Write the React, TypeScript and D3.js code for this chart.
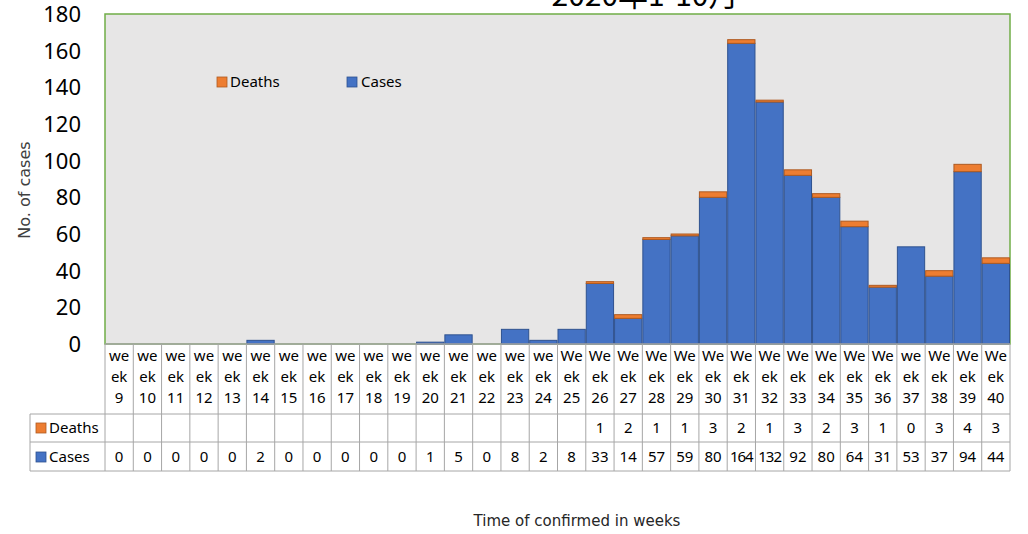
import React from "react";
import * as d3 from "d3";

const weeks = ["9","10","11","12","13","14","15","16","17","18","19","20","21","22","23","24","25","26","27","28","29","30","31","32","33","34","35","36","37","38","39","40"];
const weekPrefix = ["we","we","we","we","we","we","we","we","we","we","we","we","we","we","we","we","We","We","We","We","We","We","We","We","We","We","We","We","we","We","We","We"];
const cases = [0,0,0,0,0,2,0,0,0,0,0,1,5,0,8,2,8,33,14,57,59,80,164,132,92,80,64,31,53,37,94,44];
const deaths: (number | null)[] = [null,null,null,null,null,null,null,null,null,null,null,null,null,null,null,null,null,1,2,1,1,3,2,1,3,2,3,1,0,3,4,3];
const yTicks = [0,20,40,60,80,100,120,140,160,180];

const W = 1028, H = 534;
const left = 105, right = 1010, top = 14, bottom = 344;
const row1 = 414, row2 = 442, row3 = 471;
const tableLeft = 30;

const CASE_C = "#4472C4", CASE_S = "#2F528F";
const DEATH_C = "#ED7D31", DEATH_S = "#AE5A21";

export default function App() {
  const x = d3.scaleBand<string>().domain(weeks).range([left, right]).padding(0);
  const y = d3.scaleLinear().domain([0, 180]).range([bottom, top]);
  const bw = x.bandwidth();
  const gridC = "#A6A6A6";
  const tf = "'Noto Sans', 'Open Sans', sans-serif";

  return (
    <div style={{ position: "absolute", left: 0, top: 0 }}>
      <svg width={W} height={H} style={{ display: "block", background: "#fff" }}>
        {/* title (clipped at top, as in the reference) */}
        <text x={645} y={6} textAnchor="middle" fontSize={30} fontFamily="'Noto Sans CJK SC', 'Noto Sans', sans-serif" fill="#000">2020年1-10月</text>

        {/* plot area */}
        <rect x={left} y={top} width={right - left} height={bottom - top} fill="#E7E6E6" stroke="#70AD47" strokeWidth={1.5} />

        {/* bars */}
        {weeks.map((w, i) => {
          const c = cases[i];
          const d = deaths[i] ?? 0;
          const x0 = x(w)!;
          return (
            <g key={w}>
              {c > 0 && (
                <rect x={x0 + 0.5} y={y(c)} width={bw - 1} height={y(0) - y(c)} fill={CASE_C} stroke={CASE_S} strokeWidth={1} />
              )}
              {d > 0 && (
                <rect x={x0 + 0.5} y={y(c + d)} width={bw - 1} height={y(c) - y(c + d)} fill={DEATH_C} stroke={DEATH_S} strokeWidth={1} />
              )}
            </g>
          );
        })}

        {/* axis line */}
        <line x1={left} x2={right} y1={bottom} y2={bottom} stroke="#A6A6A6" strokeWidth={1.5} />

        {/* y ticks */}
        {yTicks.map((t) => (
          <text key={t} x={81} y={y(t) + 8} textAnchor="end" fontSize={22} fontFamily={tf} fill="#000">{t}</text>
        ))}

        {/* y title */}
        <text transform={`translate(30,${190}) rotate(-90)`} textAnchor="middle" fontSize={16} fontFamily="'DejaVu Sans', sans-serif" fill="#404040">No. of cases</text>

        {/* legend */}
        <rect x={217} y={77} width={10} height={10} fill={DEATH_C} stroke={DEATH_S} strokeWidth={0.8} />
        <text x={230} y={87} fontSize={15} fontFamily={tf} fill="#000">Deaths</text>
        <rect x={347} y={77} width={10} height={10} fill={CASE_C} stroke={CASE_S} strokeWidth={0.8} />
        <text x={361} y={87} fontSize={15} fontFamily={tf} fill="#000">Cases</text>

        {/* data table lines */}
        {weeks.map((w) => (
          <line key={"v" + w} x1={x(w)!} x2={x(w)!} y1={bottom} y2={row3} stroke={gridC} strokeWidth={1} />
        ))}
        <line x1={right} x2={right} y1={bottom} y2={row3} stroke={gridC} strokeWidth={1} />
        <line x1={tableLeft} x2={tableLeft} y1={row1} y2={row3} stroke={gridC} strokeWidth={1} />
        <line x1={tableLeft} x2={right} y1={row1} y2={row1} stroke={gridC} strokeWidth={1} />
        <line x1={tableLeft} x2={right} y1={row2} y2={row2} stroke={gridC} strokeWidth={1} />
        <line x1={tableLeft} x2={right} y1={row3} y2={row3} stroke={gridC} strokeWidth={1} />

        {/* header labels */}
        {weeks.map((w, i) => {
          const cx = x(w)! + bw / 2;
          return (
            <g key={"h" + w} fontSize={15} fontFamily={tf} fill="#000" textAnchor="middle">
              <text x={cx} y={361}>{weekPrefix[i]}</text>
              <text x={cx} y={382}>ek</text>
              <text x={cx} y={403}>{w}</text>
            </g>
          );
        })}

        {/* deaths row */}
        <rect x={36} y={423} width={10} height={10} fill={DEATH_C} stroke={DEATH_S} strokeWidth={0.8} />
        <text x={49} y={433} fontSize={15} fontFamily={tf} fill="#000">Deaths</text>
        {weeks.map((w, i) => (
          deaths[i] !== null ? (
            <text key={"d" + w} x={x(w)! + bw / 2} y={433} textAnchor="middle" fontSize={15} fontFamily={tf} fill="#000">{deaths[i]}</text>
          ) : null
        ))}

        {/* cases row */}
        <rect x={36} y={452} width={10} height={10} fill={CASE_C} stroke={CASE_S} strokeWidth={0.8} />
        <text x={49} y={462} fontSize={15} fontFamily={tf} fill="#000">Cases</text>
        {weeks.map((w, i) => (
          <text key={"c" + w} x={x(w)! + bw / 2} y={462} textAnchor="middle" fontSize={15} fontFamily={tf} fill="#000" letterSpacing={cases[i] >= 100 ? -1 : 0}>{cases[i]}</text>
        ))}

        {/* x title */}
        <text x={577} y={526} textAnchor="middle" fontSize={15} fontFamily="'DejaVu Sans', sans-serif" fill="#262626">Time of confirmed in weeks</text>
      </svg>
    </div>
  );
}
